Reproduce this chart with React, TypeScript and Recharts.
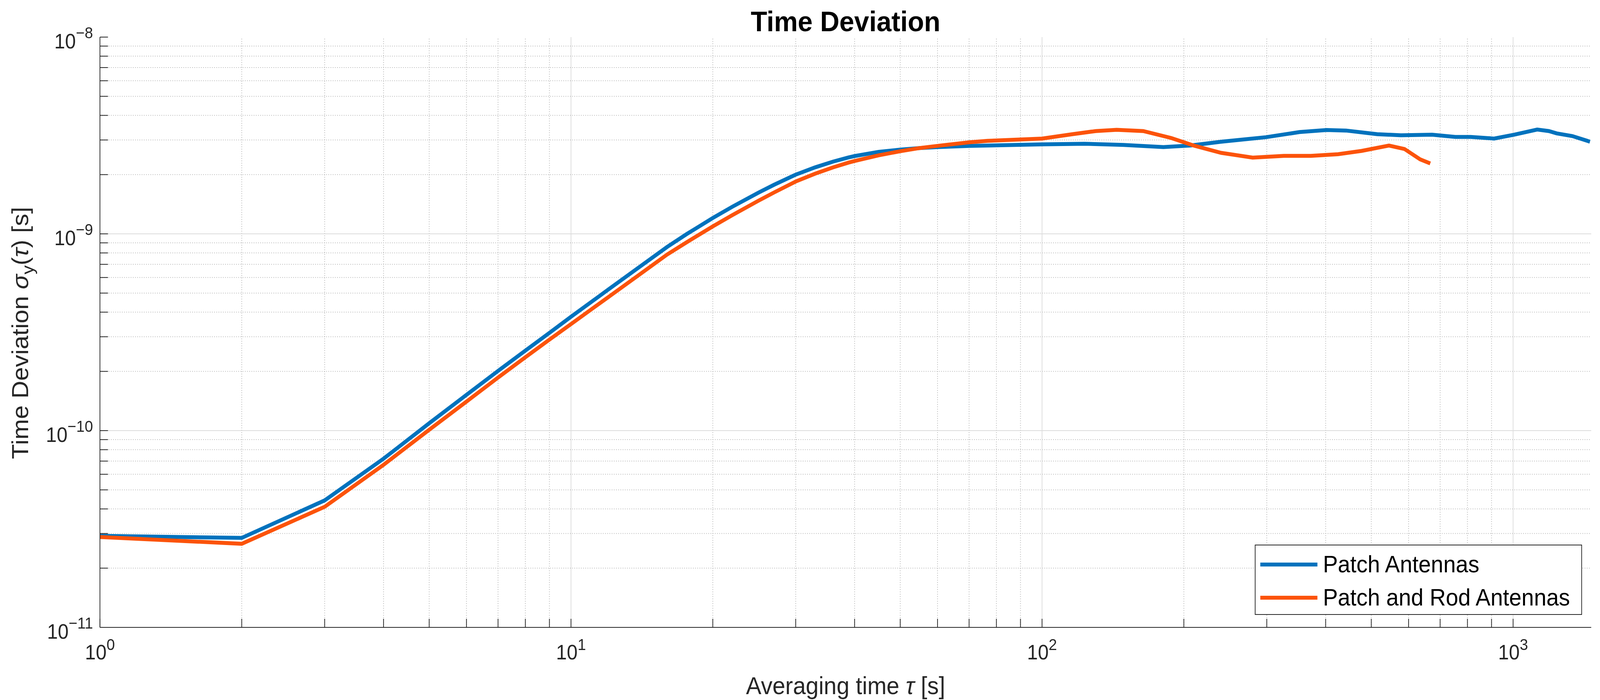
import React from "react";
import { LineChart, Line, XAxis, YAxis, ReferenceLine, Legend, Label } from "recharts";

// averaging time tau [s] and time deviation [s]
const patchTau = [1, 2, 3, 4, 5, 6, 7, 8, 9, 10, 12, 14, 16, 17.6, 20, 22, 25, 27, 30, 33, 36, 38.8, 40, 45, 50, 55, 60, 70, 76.6, 100, 123, 149, 181, 206, 240, 299, 352, 402, 442, 515, 578, 673, 754, 813, 911, 1004, 1125, 1191, 1237, 1336, 1456];
const patchDev = [2.92e-11, 2.85e-11, 4.42e-11, 7.2e-11, 1.09e-10, 1.52e-10, 2.01e-10, 2.55e-10, 3.14e-10, 3.79e-10, 5.21e-10, 6.81e-10, 8.58e-10, 9.97e-10, 1.204e-9, 1.373e-9, 1.619e-9, 1.777e-9, 2.0e-9, 2.178e-9, 2.329e-9, 2.445e-9, 2.485e-9, 2.61e-9, 2.68e-9, 2.73e-9, 2.76e-9, 2.8e-9, 2.81e-9, 2.85e-9, 2.87e-9, 2.83e-9, 2.76e-9, 2.81e-9, 2.94e-9, 3.1e-9, 3.29e-9, 3.37e-9, 3.35e-9, 3.21e-9, 3.17e-9, 3.19e-9, 3.11e-9, 3.11e-9, 3.05e-9, 3.19e-9, 3.39e-9, 3.33e-9, 3.24e-9, 3.14e-9, 2.94e-9];

const rodTau = [1, 2, 3, 4, 5, 6, 7, 8, 9, 10, 12, 14, 16, 17.6, 20, 22, 25, 27, 30, 33, 36, 38.8, 40, 45, 50, 55, 60, 70, 76.6, 100, 116, 130, 144, 164, 188, 210, 240, 280, 326, 372, 425, 477, 545, 588, 635, 667];
const rodDev = [2.88e-11, 2.66e-11, 4.1e-11, 6.7e-11, 1.01e-10, 1.405e-10, 1.86e-10, 2.36e-10, 2.9e-10, 3.48e-10, 4.77e-10, 6.23e-10, 7.85e-10, 9.06e-10, 1.091e-9, 1.245e-9, 1.474e-9, 1.624e-9, 1.845e-9, 2.023e-9, 2.177e-9, 2.3e-9, 2.345e-9, 2.506e-9, 2.63e-9, 2.73e-9, 2.8e-9, 2.92e-9, 2.97e-9, 3.05e-9, 3.21e-9, 3.33e-9, 3.38e-9, 3.33e-9, 3.07e-9, 2.81e-9, 2.58e-9, 2.44e-9, 2.49e-9, 2.49e-9, 2.54e-9, 2.64e-9, 2.81e-9, 2.7e-9, 2.39e-9, 2.28e-9];

const xMajor = [1, 10, 100, 1000];
const xMinor = [2, 3, 4, 5, 6, 7, 8, 9, 20, 30, 40, 50, 60, 70, 80, 90, 200, 300, 400, 500, 600, 700, 800, 900];
const yMajor = [1e-11, 1e-10, 1e-9, 1e-8];
const yMinor = [2e-11, 3e-11, 4e-11, 5e-11, 6e-11, 7e-11, 8e-11, 9e-11, 2e-10, 3e-10, 4e-10, 5e-10, 6e-10, 7e-10, 8e-10, 9e-10, 2e-9, 3e-9, 4e-9, 5e-9, 6e-9, 7e-9, 8e-9, 9e-9];

const xDomain = [1, 1465];
const yDomain = [1e-11, 1e-8];

const patchData = patchTau.map((t, i) => ({ t, v: patchDev[i] }));
const rodData = rodTau.map((t, i) => ({ t, v: rodDev[i] }));
const xTicks = [...xMajor, ...xMinor].sort((a, b) => a - b);
const yTicks = [...yMajor, ...yMinor].sort((a, b) => a - b);

const W = 4371;
const H = 1793;
const FONT = "'Liberation Sans', Arial, Helvetica, sans-serif";
const AXIS = "#262626";
const TICK = 22;
const LINE_W = 10;

const exponent = (v: number) => Math.round(Math.log10(v));
const isMajor = (v: number) => Math.abs(Math.log10(v) - exponent(v)) < 1e-6;
const expText = (v: number) => {
  const e = exponent(v);
  return e < 0 ? "\u2212" + Math.abs(e) : String(e);
};

const BottomTick = (props: any) => {
  const { x, y, payload } = props;
  const v = payload.value;
  return (
    <g>
      <line x1={x} x2={x} y1={y} y2={y - TICK} stroke={AXIS} strokeWidth={2} />
      {isMajor(v) && (
        <text x={x} y={y + 82} textAnchor="middle" fontSize={53} fill={AXIS} fontFamily={FONT}>
          <tspan>10</tspan>
          <tspan dy={-24} fontSize={41}>{expText(v)}</tspan>
        </text>
      )}
    </g>
  );
};

const TopTick = (props: any) => {
  const { x, y } = props;
  return <line x1={x} x2={x} y1={y} y2={y + TICK} stroke={AXIS} strokeWidth={2} />;
};

const LeftTick = (props: any) => {
  const { x, y, payload } = props;
  const v = payload.value;
  return (
    <g>
      <line x1={x} x2={x + TICK} y1={y} y2={y} stroke={AXIS} strokeWidth={2} />
      {isMajor(v) && (
        <text x={x - 19} y={y + 29} textAnchor="end" fontSize={53} fill={AXIS} fontFamily={FONT}>
          <tspan>10</tspan>
          <tspan dy={-26} fontSize={41}>{expText(v)}</tspan>
        </text>
      )}
    </g>
  );
};

const RightTick = (props: any) => {
  const { x, y } = props;
  return <line x1={x} x2={x - TICK} y1={y} y2={y} stroke={AXIS} strokeWidth={2} />;
};

const renderLegend = (props: any) => (
  <div
    style={{
      boxSizing: "border-box",
      width: 894,
      height: 180,
      border: `2px solid ${AXIS}`,
      background: "#fff",
      paddingTop: 6,
    }}
  >
    {(props.payload || []).map((p: any) => (
      <div key={p.value} style={{ display: "flex", alignItems: "center", height: 85 }}>
        <div style={{ marginLeft: 13, width: 156, height: LINE_W, background: p.color }} />
        <span style={{ marginLeft: 15, fontSize: 61, fontFamily: FONT, color: "#000", lineHeight: 1 }}>
          {p.value}
        </span>
      </div>
    ))}
  </div>
);

export default function App() {
  // the browser may be narrower than the figure; squeeze it horizontally to fit
  const sx = typeof window !== "undefined" ? Math.min(1, window.innerWidth / W) : 1;
  return (
    <div style={{ position: "fixed", left: 0, top: 0, width: "100vw", height: "100vh", overflow: "hidden", background: "#fff" }}>
      <div style={{ position: "relative", width: W, height: H, transform: `scaleX(${sx})`, transformOrigin: "0 0" }}>
        <div
          style={{
            position: "absolute",
            left: 273,
            top: 19,
            width: 4074,
            textAlign: "center",
            fontFamily: FONT,
            fontSize: 73,
            fontWeight: "bold",
            lineHeight: "72px",
            color: "#000",
            zIndex: 2,
          }}
        >
          Time Deviation
        </div>
        <LineChart width={W} height={H} margin={{ top: 95, right: 24, bottom: 0, left: 0 }}>
          <XAxis
            dataKey="t"
            type="number"
            scale="log"
            domain={xDomain}
            allowDataOverflow
            ticks={xTicks}
            interval={0}
            tickSize={0}
            tickMargin={0}
            tickLine={false}
            height={186}
            axisLine={{ stroke: AXIS, strokeWidth: 2 }}
            tick={BottomTick}
          >
            <Label
              content={(p: any) => {
                const vb = p.viewBox;
                return (
                  <text x={vb.x + vb.width / 2} y={vb.y + 171} textAnchor="middle" fontSize={63} fill={AXIS} fontFamily={FONT}>
                    Averaging time <tspan fontStyle="italic">τ</tspan> [s]
                  </text>
                );
              }}
            />
          </XAxis>
          <XAxis
            xAxisId="top"
            orientation="top"
            dataKey="t"
            type="number"
            scale="log"
            domain={xDomain}
            allowDataOverflow
            ticks={xTicks}
            interval={0}
            tickSize={0}
            tickMargin={0}
            tickLine={false}
            height={0}
            axisLine={{ stroke: AXIS, strokeWidth: 2 }}
            tick={TopTick}
          />
          <YAxis
            type="number"
            scale="log"
            domain={yDomain}
            allowDataOverflow
            ticks={yTicks}
            interval={0}
            tickSize={0}
            tickMargin={0}
            tickLine={false}
            width={273}
            axisLine={{ stroke: AXIS, strokeWidth: 2 }}
            tick={LeftTick}
          >
            <Label
              content={(p: any) => {
                const vb = p.viewBox;
                const cx = 77;
                const cy = vb.y + vb.height / 2 + 2;
                return (
                  <text x={cx} y={cy} transform={`rotate(-90, ${cx}, ${cy})`} textAnchor="middle" fontSize={63} fill={AXIS} fontFamily={FONT}>
                    Time Deviation <tspan fontStyle="italic">σ</tspan>
                    <tspan dy={15} fontSize={46}>y</tspan>
                    <tspan dy={-15}>(</tspan>
                    <tspan fontStyle="italic">τ</tspan>
                    <tspan>) [s]</tspan>
                  </text>
                );
              }}
            />
          </YAxis>
          <YAxis
            yAxisId="right"
            orientation="right"
            type="number"
            scale="log"
            domain={yDomain}
            allowDataOverflow
            ticks={yTicks}
            interval={0}
            tickSize={0}
            tickMargin={0}
            tickLine={false}
            width={0}
            axisLine={{ stroke: AXIS, strokeWidth: 2 }}
            tick={RightTick}
          />

          {xMinor.map((v) => (
            <ReferenceLine key={`xm${v}`} x={v} stroke="#b8b8b8" strokeWidth={2} strokeDasharray="2 4" />
          ))}
          {yMinor.map((v) => (
            <ReferenceLine key={`ym${v}`} y={v} stroke="#b8b8b8" strokeWidth={2} strokeDasharray="2 4" />
          ))}
          {xMajor.slice(1).map((v) => (
            <ReferenceLine key={`xM${v}`} x={v} stroke="#dcdcdc" strokeWidth={2} />
          ))}
          {yMajor.slice(1, 3).map((v) => (
            <ReferenceLine key={`yM${v}`} y={v} stroke="#dcdcdc" strokeWidth={2} />
          ))}

          <Line
            data={patchData}
            dataKey="v"
            name="Patch Antennas"
            type="linear"
            stroke="#0072BD"
            strokeWidth={LINE_W}
            dot={false}
            activeDot={false}
            isAnimationActive={false}
          />
          <Line
            data={rodData}
            dataKey="v"
            name="Patch and Rod Antennas"
            type="linear"
            stroke="#FC530A"
            strokeWidth={LINE_W}
            dot={false}
            activeDot={false}
            isAnimationActive={false}
          />

          <Legend
            layout="vertical"
            align="center"
            verticalAlign="middle"
            content={renderLegend}
            wrapperStyle={{ left: 3428, top: 1395, right: "auto", bottom: "auto", width: 894, height: 180 }}
          />
        </LineChart>
      </div>
    </div>
  );
}
